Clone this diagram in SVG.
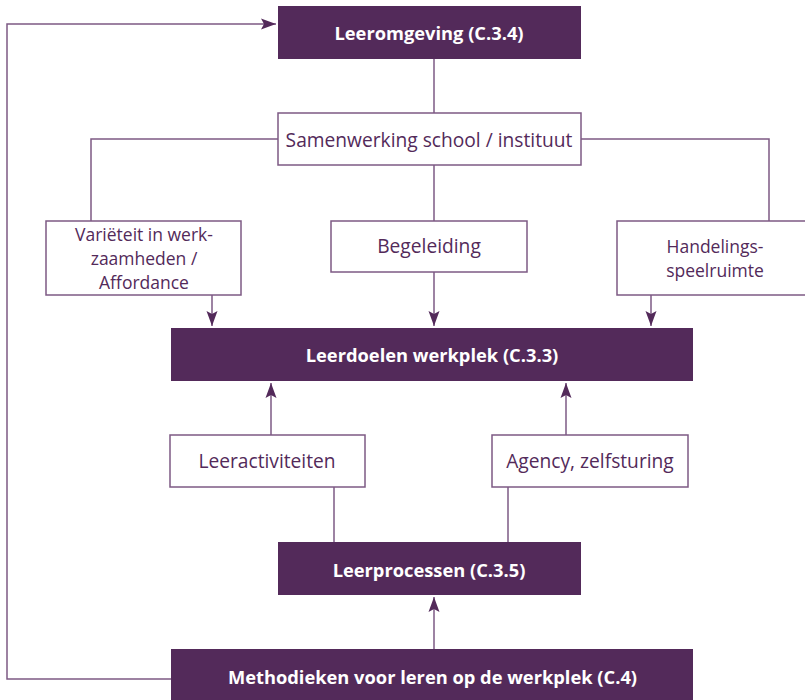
<svg xmlns="http://www.w3.org/2000/svg" width="805" height="700" viewBox="0 0 805 700">
<style>
.dark{fill:#532a5a}
.light{fill:#ffffff;stroke:#7d5a84;stroke-width:1.5}
.tb{font-family:"Open Sans","Noto Sans",sans-serif;font-weight:bold;font-size:18.3px;fill:#ffffff;text-anchor:middle}
.tn{font-family:"Open Sans","Noto Sans",sans-serif;font-size:19.2px;fill:#532a5a;text-anchor:middle}
.tm{font-family:"Open Sans","Noto Sans",sans-serif;font-size:17.5px;fill:#532a5a;text-anchor:middle}
.ln{fill:none;stroke:#7d5a84;stroke-width:1.5}
</style>
<defs>
<marker id="ah" markerWidth="16" markerHeight="12" refX="15" refY="6" orient="auto" markerUnits="userSpaceOnUse">
<path d="M0,0.5 L15,6 L0,11.5 L3,6 Z" fill="#532a5a"/>
</marker>
</defs>
<g id="connectors">
<path class="ln" d="M171,679 H7 V24 H276" marker-end="url(#ah)"/>
<path class="ln" d="M434,59 V113"/>
<path class="ln" d="M278,139 H91 V221"/>
<path class="ln" d="M581,139 H769 V221"/>
<path class="ln" d="M434,165 V221"/>
<path class="ln" d="M212,295 V326" marker-end="url(#ah)"/>
<path class="ln" d="M434,272 V326" marker-end="url(#ah)"/>
<path class="ln" d="M651,295 V326" marker-end="url(#ah)"/>
<path class="ln" d="M271,435 V383" marker-end="url(#ah)"/>
<path class="ln" d="M566,435 V383" marker-end="url(#ah)"/>
<path class="ln" d="M334,487 V542"/>
<path class="ln" d="M508,487 V542"/>
<path class="ln" d="M434,649 V597" marker-end="url(#ah)"/>
</g>
<g id="leeromgeving">
<rect class="dark" x="278" y="6" width="303" height="53"/>
<text class="tb" x="429" y="39.5">Leeromgeving (C.3.4)</text>
</g>
<g id="samenwerking">
<rect class="light" x="278" y="113" width="303" height="52"/>
<text class="tn" x="429" y="146.5">Samenwerking school / instituut</text>
</g>
<g id="varieteit">
<rect class="light" x="46" y="221" width="195" height="74"/>
<text class="tm" x="144" y="240.5">Variëteit in werk-</text>
<text class="tm" x="144" y="264.5">zaamheden /</text>
<text class="tm" x="144" y="288.5">Affordance</text>
</g>
<g id="begeleiding">
<rect class="light" x="331" y="221" width="196" height="51"/>
<text class="tn" x="429" y="253">Begeleiding</text>
</g>
<g id="handelingsspeelruimte">
<rect class="light" x="617" y="221" width="196" height="74"/>
<text class="tm" x="715" y="253">Handelings-</text>
<text class="tm" x="715" y="277">speelruimte</text>
</g>
<g id="leerdoelen">
<rect class="dark" x="171" y="328" width="522" height="53"/>
<text class="tb" x="432" y="362">Leerdoelen werkplek (C.3.3)</text>
</g>
<g id="leeractiviteiten">
<rect class="light" x="170" y="435" width="195" height="52"/>
<text class="tn" x="267" y="468">Leeractiviteiten</text>
</g>
<g id="agency">
<rect class="light" x="492" y="435" width="196" height="52"/>
<text class="tn" x="590" y="468">Agency, zelfsturing</text>
</g>
<g id="leerprocessen">
<rect class="dark" x="278" y="542" width="303" height="53"/>
<text class="tb" x="429" y="576.5">Leerprocessen (C.3.5)</text>
</g>
<g id="methodieken">
<rect class="dark" x="171" y="649" width="522" height="53"/>
<text class="tb" x="432.5" y="683.5">Methodieken voor leren op de werkplek (C.4)</text>
</g>
</svg>
